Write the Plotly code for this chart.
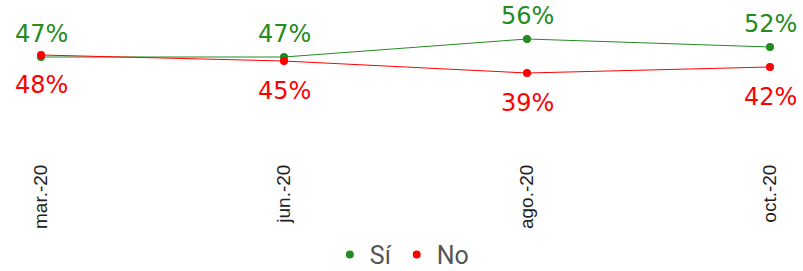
import plotly.graph_objects as go

categories = ["mar.-20", "jun.-20", "ago.-20", "oct.-20"]
si_values = [47, 47, 56, 52]
no_values = [48, 45, 39, 42]

green = "#228B22"
red = "#FF0000"

fig = go.Figure()
for name, vals, col in [("Sí", si_values, green), ("No", no_values, red)]:
    fig.add_trace(go.Scatter(
        x=categories, y=vals, name=name, mode="lines+markers", legendgroup=name,
        line=dict(color=col, width=1), marker=dict(color=col, size=7),
        cliponaxis=False, showlegend=False,
    ))
    fig.add_trace(go.Scatter(
        x=categories, y=vals, name=name, mode="markers", legendgroup=name,
        marker=dict(color=col, size=8), cliponaxis=False, showlegend=True,
    ))

annotations = []
for c, v in zip(categories, si_values):
    annotations.append(dict(x=c, y=v, text=f"{v}%", showarrow=False, yshift=23,
                            font=dict(family="DejaVu Sans", size=24, color=green)))
for c, v in zip(categories, no_values):
    annotations.append(dict(x=c, y=v, text=f"{v}%", showarrow=False, yshift=-30,
                            font=dict(family="DejaVu Sans", size=24, color=red)))

fig.update_layout(
    width=803, height=271,
    margin=dict(l=41, r=33, t=11, b=120, autoexpand=False),
    plot_bgcolor="white", paper_bgcolor="white",
    annotations=annotations,
    showlegend=True,
    legend=dict(orientation="h", x=0.495, xanchor="center", yref="container", y=0.06, yanchor="middle",
                font=dict(family="Roboto", size=25, color="#555555"),
                itemwidth=30, tracegroupgap=0),
    xaxis=dict(range=[0, 3], showgrid=False, zeroline=False, showline=False, automargin=False,
               tickangle=-90, tickfont=dict(family="Liberation Sans", size=19, color="#222222"),
               ticks="outside", ticklen=5, tickcolor="rgba(0,0,0,0)"),
    yaxis=dict(range=[0, 70], visible=False),
)

fig.write_html("out.html", config={"displayModeBar": False},
               post_script="document.body.style.margin='0';document.body.style.overflow='hidden';")
